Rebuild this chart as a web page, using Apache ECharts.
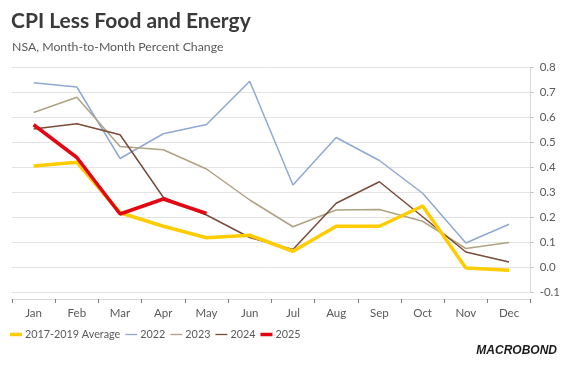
<!DOCTYPE html>
<html><head><meta charset="utf-8">
<script src="https://cdn.jsdelivr.net/npm/echarts@6/dist/echarts.min.js"></script>
<style>html,body{margin:0;padding:0;background:#fff}#c{width:563px;height:367px}</style>
</head><body><div id="c"></div>
<script>
const months = ['Jan','Feb','Mar','Apr','May','Jun','Jul','Aug','Sep','Oct','Nov','Dec'];
const avg2017_2019 = [0.404,0.419,0.217,0.163,0.117,0.127,0.063,0.163,0.163,0.244,-0.004,-0.013];
const y2022 = [0.737,0.720,0.434,0.533,0.570,0.743,0.328,0.518,0.426,0.295,0.096,0.171];
const y2023 = [0.618,0.679,0.482,0.469,0.392,0.268,0.161,0.228,0.230,0.183,0.074,0.098];
const y2024 = [0.552,0.573,0.529,0.279,0.208,0.118,0.070,0.255,0.341,0.201,0.060,0.020];
const y2025 = [0.569,0.438,0.212,0.272,0.214];
const yTicks = {min:-0.1, max:0.8, interval:0.1};

const chart = echarts.init(document.getElementById('c'), null, {renderer:'canvas'});
const mk = (name, data, color, width, z) => ({
  name, type:'line', data, symbol:'none', z,
  lineStyle:{color, width}, itemStyle:{color}
});
const thick = 'path://M0,0h12v3.5h-12z';
const thin = 'path://M0,0h12v1.3h-12z';
chart.setOption({
  animation:false,
  title:[
    {text:'CPI Less Food and Energy', left:6, top:6,
     textStyle:{fontFamily:'Lato', fontWeight:'bold', fontSize:21, color:'#3a3a3a'}},
    {text:'NSA, Month-to-Month Percent Change', left:7, top:36,
     textStyle:{fontFamily:'Lato', fontWeight:'normal', fontSize:12.3, color:'#595959'}}
  ],
  grid:{left:12, right:32, top:67, bottom:75},
  legend:{left:5, top:324, itemWidth:12, itemHeight:8, itemGap:5, symbolKeepAspect:true,
    textStyle:{fontFamily:'Lato', fontSize:10.8, color:'#595959', padding:[0,0,0,-2]},
    data:[
      {name:'2017-2019 Average', icon:thick},
      {name:'2022', icon:thin},
      {name:'2023', icon:thin},
      {name:'2024', icon:thin},
      {name:'2025', icon:thick}
    ]},
  xAxis:{type:'category', data:months, boundaryGap:true, offset:7,
    axisLine:{onZero:false, lineStyle:{color:'#d9d9d9'}},
    axisTick:{show:true, length:4, lineStyle:{color:'#7f7f7f'}},
    axisLabel:{fontFamily:'Lato', fontSize:11.5, color:'#595959', margin:8}},
  yAxis:{type:'value', position:'right', min:yTicks.min, max:yTicks.max, interval:yTicks.interval,
    axisLine:{show:true, lineStyle:{color:'#d9d9d9'}},
    axisTick:{show:true, length:3, lineStyle:{color:'#bfbfbf'}},
    splitLine:{lineStyle:{color:'#e3e3e3'}},
    axisLabel:{fontFamily:'Lato', fontSize:11.5, color:'#595959', margin:9,
      formatter:v=>v.toFixed(1)}},
  graphic:[{type:'text', right:6, bottom:10,
    style:{text:'MACROBOND', font:'italic bold 12px "Liberation Sans"', fill:'#1a1a1a'}}],
  series:[
    mk('2017-2019 Average', avg2017_2019, '#FFCC00', 3.5, 3),
    mk('2022', y2022, '#8FA8D4', 1.5, 2),
    mk('2023', y2023, '#AFA283', 1.5, 2),
    mk('2024', y2024, '#7A4B3A', 1.5, 2),
    mk('2025', y2025, '#E30613', 3.5, 4)
  ]
});
</script></body></html>
